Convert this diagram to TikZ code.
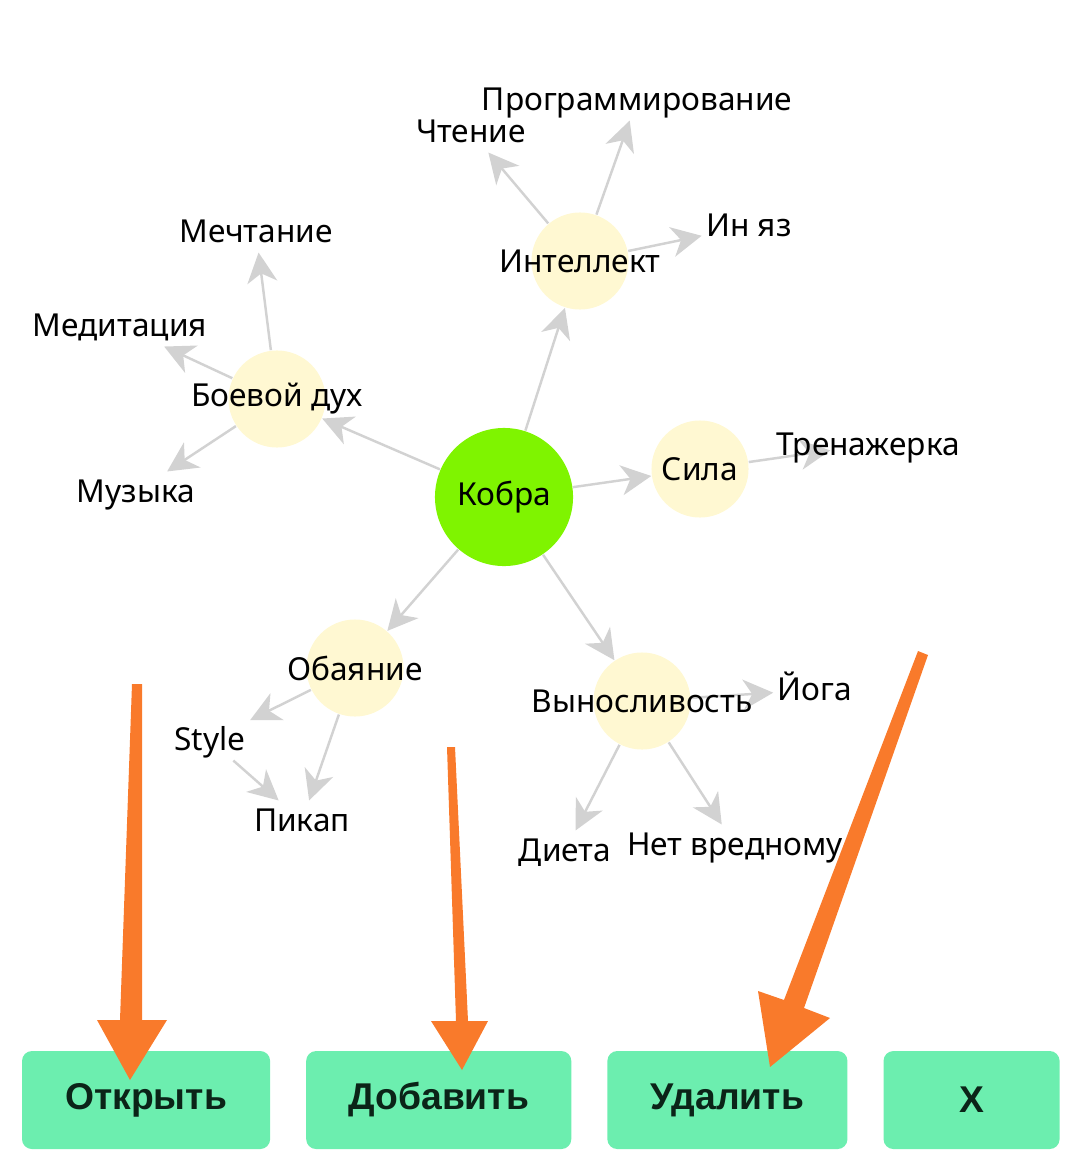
\documentclass[tikz,border=0pt]{standalone}
\usepackage{fontspec}
\setmainfont{Noto Sans}
\newfontfamily\btnface{Liberation Sans}
\usetikzlibrary{positioning, arrows.meta, backgrounds}
\usepackage{xcolor}

\definecolor{hubyellow}{HTML}{FFF8D2}
\definecolor{rootgreen}{HTML}{7FF400}
\definecolor{edgegray}{HTML}{D2D2D2}
\definecolor{btngreen}{HTML}{6CEEAF}
\definecolor{btntext}{HTML}{0B2418}
\definecolor{pointer}{HTML}{F97A2B}

\newcommand{\lblfont}{\fontsize{9pt}{11pt}\selectfont}
\newcommand{\btnfont}{\btnface\fontsize{10.6pt}{12pt}\selectfont\bfseries}

\begin{document}
\begin{tikzpicture}[
  x=0.01cm, y=-0.01cm,
  hub/.style={
    circle,
    fill=hubyellow,
    minimum size=0.97cm,
    inner sep=0pt
  },
  root/.style={
    circle,
    fill=rootgreen,
    minimum size=1.38cm,
    inner sep=0pt,
    font=\lblfont
  },
  hubtext/.style={font=\lblfont, inner sep=0pt},
  leaf/.style={
    font=\lblfont,
    inner sep=0.04cm,
    text height=0.75em,
    text depth=0.15em
  },
  edge/.style={
    draw=edgegray,
    line width=0.7pt,
    -{Stealth[length=0.3cm, width=0.3cm, inset=0.09cm]}
  },
  button/.style={
    fill=btngreen,
    rounded corners=0.1cm,
    minimum height=0.98cm,
    inner sep=0pt,
    outer sep=0pt,
    text=btntext,
    font=\btnfont
  },
  pointer/.style={fill=pointer}
]
\useasboundingbox (0,0) rectangle (1080,1170);

% centre and first ring
\node[root] (kobra) at (504,497) {Кобра};
\node[hub, label={[hubtext]center:Боевой дух}] (boev) at (277,399) {};
\node[hub, label={[hubtext]center:Интеллект}] (intel) at (580,261) {};
\node[hub, label={[hubtext]center:Сила}] (sila) at (700,469) {};
\node[hub, label={[hubtext]center:Обаяние}] (obay) at (355,668) {};
\node[hub, label={[hubtext]center:Выносливость}] (vynos) at (642,701) {};

% leaves
\node[leaf] (mecht) at (256,232) {Мечтание};
\node[leaf] (medit) at (120,326) {Медитация};
\node[leaf] (muzyka) at (136,492) {Музыка};
\node[leaf] (chtenie) at (471,132) {Чтение};
\node[leaf] (progr) at (637,100) {Программирование};
\node[leaf] (inyaz) at (749,226) {Ин яз};
\node[leaf] (tren) at (868,445) {Тренажерка};
\node[leaf] (style) at (210,740) {Style};
\node[leaf] (pikap) at (302,821) {Пикап};
\node[leaf] (yoga) at (815,690) {Йога};
\node[leaf] (dieta) at (565,851) {Диета};
\node[leaf] (netvred) at (735,845) {Нет вредному};

\begin{scope}[on background layer]
\draw[edge] (kobra) -- (boev);
\draw[edge] (kobra) -- (intel);
\draw[edge] (kobra) -- (sila);
\draw[edge] (kobra) -- (obay);
\draw[edge] (kobra) -- (vynos);
\draw[edge] (boev) -- (mecht);
\draw[edge] (boev) -- (medit);
\draw[edge] (boev) -- (muzyka);
\draw[edge] (intel) -- (chtenie);
\draw[edge] (intel) -- (progr);
\draw[edge] (intel) -- (inyaz);
\draw[edge, shorten >=0.38cm] (sila) -- (tren.center);
\draw[edge] (obay) -- (style);
\draw[edge] (obay) -- (pikap);
\draw[edge] (style) -- (pikap);
\draw[edge] (vynos) -- (yoga);
\draw[edge] (vynos) -- (dieta);
\draw[edge] (vynos) -- (netvred);
\end{scope}

% buttons
\node[button, minimum width=2.48cm, anchor=north west] (open) at (22,1051) {Открыть};
\node[button, minimum width=2.65cm, right=0.36cm of open] (add) {Добавить};
\node[button, minimum width=2.40cm, right=0.36cm of add] (del) {Удалить};
\node[button, minimum width=1.76cm, right=0.36cm of del] (close) {X};

% orange pointers
\fill[pointer] (132,684) -- (142,684) -- (142,1020) -- (167,1020) -- (130,1080)
  -- (97,1020) -- (120,1020) -- cycle;
\fill[pointer] (447,747) -- (455,747) -- (468,1021) -- (488,1021) -- (462,1070)
  -- (431,1021) -- (456,1021) -- cycle;
\fill[pointer] (918,651) -- (928,655) -- (804,1008) -- (830,1018) -- (770,1067)
  -- (758,991) -- (784,1000) -- cycle;
\end{tikzpicture}
\end{document}
